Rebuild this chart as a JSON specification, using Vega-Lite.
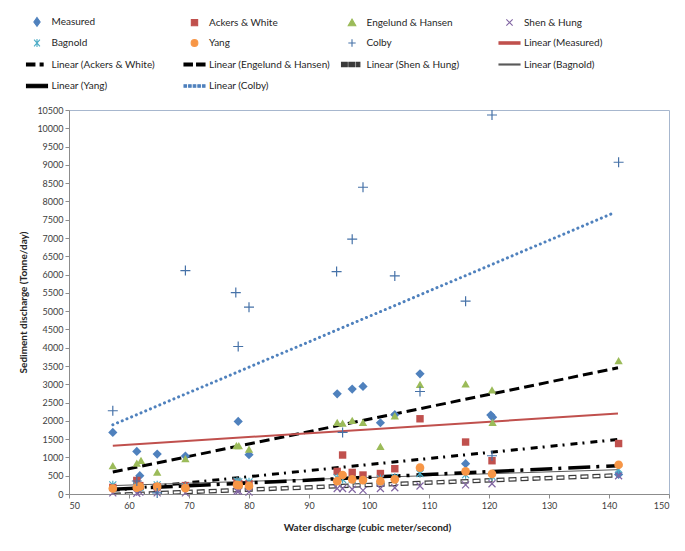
{
  "$schema": "https://vega.github.io/schema/vega-lite/v6.json",
  "width": 600,
  "height": 384,
  "autosize": {"type": "none"},
  "padding": {"left": 69, "top": 110, "right": 16, "bottom": 57},
  "background": "white",
  "config": {
    "view": {"stroke": "#A7B7CE", "strokeWidth": 1},
    "font": "Lato",
    "axis": {"labelFont": "Lato", "labelFontSize": 9, "labelColor": "#404040", "titleFont": "Lato", "titleFontSize": 10, "titleFontWeight": "bold", "titleColor": "#262626", "domainColor": "#8C8C8C", "tickColor": "#8C8C8C", "tickSize": 4, "grid": false}
  },
  "data": {"values": [
    {"series": "Measured", "q": 57.3, "s": 1683}, {"series": "Measured", "q": 61.3, "s": 1164}, {"series": "Measured", "q": 61.8, "s": 500}, {"series": "Measured", "q": 64.7, "s": 1093}, {"series": "Measured", "q": 69.4, "s": 1038}, {"series": "Measured", "q": 78.2, "s": 1984}, {"series": "Measured", "q": 80, "s": 1074}, {"series": "Measured", "q": 94.7, "s": 2740}, {"series": "Measured", "q": 97.2, "s": 2869}, {"series": "Measured", "q": 99, "s": 2940}, {"series": "Measured", "q": 101.9, "s": 1948}, {"series": "Measured", "q": 104.3, "s": 2170}, {"series": "Measured", "q": 108.5, "s": 3287}, {"series": "Measured", "q": 116.1, "s": 828}, {"series": "Measured", "q": 120.3, "s": 2160}, {"series": "Measured", "q": 120.6, "s": 2100}, {"series": "Measured", "q": 141.6, "s": 536},
    {"series": "Ackers & White", "q": 57.3, "s": 180}, {"series": "Ackers & White", "q": 61.3, "s": 370}, {"series": "Ackers & White", "q": 61.8, "s": 230}, {"series": "Ackers & White", "q": 64.7, "s": 200}, {"series": "Ackers & White", "q": 69.4, "s": 230}, {"series": "Ackers & White", "q": 78, "s": 330}, {"series": "Ackers & White", "q": 78.3, "s": 280}, {"series": "Ackers & White", "q": 80, "s": 280}, {"series": "Ackers & White", "q": 94.7, "s": 618}, {"series": "Ackers & White", "q": 95.6, "s": 1066}, {"series": "Ackers & White", "q": 97.2, "s": 590}, {"series": "Ackers & White", "q": 99, "s": 519}, {"series": "Ackers & White", "q": 101.9, "s": 560}, {"series": "Ackers & White", "q": 104.3, "s": 691}, {"series": "Ackers & White", "q": 108.5, "s": 2057}, {"series": "Ackers & White", "q": 116.1, "s": 1421}, {"series": "Ackers & White", "q": 120.5, "s": 910}, {"series": "Ackers & White", "q": 141.6, "s": 1380},
    {"series": "Engelund & Hansen", "q": 57.3, "s": 773}, {"series": "Engelund & Hansen", "q": 61.3, "s": 847}, {"series": "Engelund & Hansen", "q": 62, "s": 918}, {"series": "Engelund & Hansen", "q": 64.7, "s": 601}, {"series": "Engelund & Hansen", "q": 69.4, "s": 964}, {"series": "Engelund & Hansen", "q": 77.9, "s": 1320}, {"series": "Engelund & Hansen", "q": 78.3, "s": 1320}, {"series": "Engelund & Hansen", "q": 80, "s": 1230}, {"series": "Engelund & Hansen", "q": 94.7, "s": 1956}, {"series": "Engelund & Hansen", "q": 95.6, "s": 1940}, {"series": "Engelund & Hansen", "q": 97.2, "s": 2011}, {"series": "Engelund & Hansen", "q": 99, "s": 1956}, {"series": "Engelund & Hansen", "q": 101.9, "s": 1301}, {"series": "Engelund & Hansen", "q": 104.3, "s": 2139}, {"series": "Engelund & Hansen", "q": 108.5, "s": 2995}, {"series": "Engelund & Hansen", "q": 116.1, "s": 3014}, {"series": "Engelund & Hansen", "q": 120.5, "s": 2850}, {"series": "Engelund & Hansen", "q": 120.6, "s": 1956}, {"series": "Engelund & Hansen", "q": 141.6, "s": 3650},
    {"series": "Shen & Hung", "q": 57.3, "s": 30}, {"series": "Shen & Hung", "q": 61.3, "s": 20}, {"series": "Shen & Hung", "q": 61.8, "s": 50}, {"series": "Shen & Hung", "q": 64.7, "s": 30}, {"series": "Shen & Hung", "q": 69.4, "s": 30}, {"series": "Shen & Hung", "q": 78, "s": 80}, {"series": "Shen & Hung", "q": 78.3, "s": 80}, {"series": "Shen & Hung", "q": 80, "s": 50}, {"series": "Shen & Hung", "q": 94.7, "s": 150}, {"series": "Shen & Hung", "q": 95.6, "s": 150}, {"series": "Shen & Hung", "q": 97.2, "s": 130}, {"series": "Shen & Hung", "q": 99, "s": 100}, {"series": "Shen & Hung", "q": 101.9, "s": 150}, {"series": "Shen & Hung", "q": 104.3, "s": 170}, {"series": "Shen & Hung", "q": 108.5, "s": 220}, {"series": "Shen & Hung", "q": 116.1, "s": 250}, {"series": "Shen & Hung", "q": 120.5, "s": 280}, {"series": "Shen & Hung", "q": 141.6, "s": 500},
    {"series": "Bagnold", "q": 57.3, "s": 250}, {"series": "Bagnold", "q": 61.3, "s": 230}, {"series": "Bagnold", "q": 61.8, "s": 180}, {"series": "Bagnold", "q": 64.7, "s": 250}, {"series": "Bagnold", "q": 69.4, "s": 200}, {"series": "Bagnold", "q": 78, "s": 350}, {"series": "Bagnold", "q": 78.3, "s": 330}, {"series": "Bagnold", "q": 80, "s": 330}, {"series": "Bagnold", "q": 94.7, "s": 440}, {"series": "Bagnold", "q": 95.6, "s": 400}, {"series": "Bagnold", "q": 97.2, "s": 400}, {"series": "Bagnold", "q": 99, "s": 380}, {"series": "Bagnold", "q": 101.9, "s": 420}, {"series": "Bagnold", "q": 104.3, "s": 450}, {"series": "Bagnold", "q": 108.5, "s": 560}, {"series": "Bagnold", "q": 116.1, "s": 530}, {"series": "Bagnold", "q": 120.5, "s": 480}, {"series": "Bagnold", "q": 141.6, "s": 680},
    {"series": "Yang", "q": 57.3, "s": 150}, {"series": "Yang", "q": 61.3, "s": 170}, {"series": "Yang", "q": 61.8, "s": 200}, {"series": "Yang", "q": 64.7, "s": 200}, {"series": "Yang", "q": 69.4, "s": 160}, {"series": "Yang", "q": 78, "s": 250}, {"series": "Yang", "q": 78.3, "s": 240}, {"series": "Yang", "q": 80, "s": 220}, {"series": "Yang", "q": 94.7, "s": 350}, {"series": "Yang", "q": 95.6, "s": 520}, {"series": "Yang", "q": 97.2, "s": 400}, {"series": "Yang", "q": 99, "s": 380}, {"series": "Yang", "q": 101.9, "s": 350}, {"series": "Yang", "q": 104.3, "s": 400}, {"series": "Yang", "q": 108.5, "s": 720}, {"series": "Yang", "q": 116.1, "s": 620}, {"series": "Yang", "q": 120.5, "s": 550}, {"series": "Yang", "q": 141.6, "s": 800},
    {"series": "Colby", "q": 57.3, "s": 2276}, {"series": "Colby", "q": 61.3, "s": 355}, {"series": "Colby", "q": 64.7, "s": 30}, {"series": "Colby", "q": 69.4, "s": 6109}, {"series": "Colby", "q": 77.8, "s": 5508}, {"series": "Colby", "q": 78.2, "s": 4033}, {"series": "Colby", "q": 80, "s": 5109}, {"series": "Colby", "q": 94.6, "s": 6082}, {"series": "Colby", "q": 95.6, "s": 1683}, {"series": "Colby", "q": 97.2, "s": 6967}, {"series": "Colby", "q": 99, "s": 8388}, {"series": "Colby", "q": 104.3, "s": 5964}, {"series": "Colby", "q": 108.5, "s": 2803}, {"series": "Colby", "q": 116.1, "s": 5273}, {"series": "Colby", "q": 120.5, "s": 10363}, {"series": "Colby", "q": 120.5, "s": 1046}, {"series": "Colby", "q": 141.6, "s": 9071},
    {"series": "Linear (Measured)", "q": 57.3, "s": 1320}, {"series": "Linear (Measured)", "q": 141.5, "s": 2200},
    {"series": "Linear (Ackers & White)", "q": 57.3, "s": 100}, {"series": "Linear (Ackers & White)", "q": 141.5, "s": 1490},
    {"series": "Linear (Engelund & Hansen)", "q": 57.3, "s": 600}, {"series": "Linear (Engelund & Hansen)", "q": 141.5, "s": 3450},
    {"series": "Linear (Shen & Hung)", "q": 57.3, "s": -25}, {"series": "Linear (Shen & Hung)", "q": 141.5, "s": 510},
    {"series": "Linear (Bagnold)", "q": 57.3, "s": 230}, {"series": "Linear (Bagnold)", "q": 141.5, "s": 665},
    {"series": "Linear (Yang)", "q": 57.3, "s": 130}, {"series": "Linear (Yang)", "q": 141.5, "s": 775},
    {"series": "Linear (Colby)", "q": 57.3, "s": 1893}, {"series": "Linear (Colby)", "q": 141, "s": 7700}
  ]},
  "encoding": {
    "x": {"field": "q", "type": "quantitative", "title": "Water discharge (cubic meter/second)", "scale": {"domain": [50, 150], "nice": false, "zero": false}, "axis": {"values": [50, 60, 70, 80, 90, 100, 110, 120, 130, 140, 150], "labelPadding": 3, "titleX": 298, "titleY": 33, "titleBaseline": "middle"}},
    "y": {"field": "s", "type": "quantitative", "title": "Sediment discharge (Tonne/day)", "scale": {"domain": [0, 10500], "nice": false}, "axis": {"values": [0, 500, 1000, 1500, 2000, 2500, 3000, 3500, 4000, 4500, 5000, 5500, 6000, 6500, 7000, 7500, 8000, 8500, 9000, 9500, 10000, 10500], "format": "d", "labelPadding": 2, "titleX": -46, "titleY": 192, "titleAlign": "center", "titleBaseline": "middle", "titleAngle": -90}},
    "color": {
      "field": "series", "type": "nominal",
      "scale": {
        "domain": ["Measured", "Bagnold", "Linear (Ackers & White)", "Linear (Bagnold)", "Ackers & White", "Yang", "Linear (Engelund & Hansen)", "Linear (Yang)", "Engelund & Hansen", "Colby", "Linear (Shen & Hung)", "Linear (Colby)", "Shen & Hung", "Linear (Measured)"],
        "range": ["#4F81BD", "#4BACC6", "#000000", "#595959", "#C0504D", "#F79646", "#000000", "#000000", "#9BBB59", "#4672A8", "#3A3A3A", "#4F81BD", "#8064A2", "#C0504D"]
      },
      "legend": {
        "orient": "none", "legendX": -43.5, "legendY": -100, "columns": 4, "title": null, "gridAlign": "all",
        "columnPadding": 8.5, "rowPadding": 2.5, "symbolSize": 441, "symbolStrokeWidth": 1.1, "padding": 0,
        "labelFont": "Lato", "labelFontSize": 10, "labelColor": "#262626", "labelOffset": 3, "labelLimit": 300,
        "encode": {"symbols": {"update": {
          "shape": {"signal": "['M0,-0.42L0.3,0L0,0.42L-0.3,0Z','M-0.3,-0.3H0.3V0.3H-0.3Z','M0,-0.34L0.36,0.3H-0.36Z','M-0.3,-0.3L0.3,0.3M-0.3,0.3L0.3,-0.3','M-0.28,-0.32L0.28,0.32M-0.28,0.32L0.28,-0.32M0,-0.38V0.38','M0.32,0A0.32,0.32,0,1,1,-0.32,0A0.32,0.32,0,1,1,0.32,0Z','M-0.35,0H0.35M0,-0.35V0.35','M-1,-0.11H1V0.11H-1Z','M-1,-0.14H-0.2V0.14H-1Z M0.3,-0.14H0.58V0.14H0.3Z','M-1,-0.14H-0.2V0.14H-1Z M0.2,-0.14H1V0.14H0.2Z','M-1,-0.2H-0.45V0.2H-1Z M-0.3,-0.2H0.25V0.2H-0.3Z M0.4,-0.2H0.75V0.2H0.4Z','M-1,-0.05H1V0.05H-1Z','M-1,-0.17H1V0.17H-1Z','M-1,-0.12H-0.76V0.12H-1Z M-0.56,-0.12H-0.32V0.12H-0.56Z M-0.12,-0.12H0.12V0.12H-0.12Z M0.32,-0.12H0.56V0.12H0.32Z M0.76,-0.12H1V0.12H0.76Z'][indexof(['Measured','Ackers & White','Engelund & Hansen','Shen & Hung','Bagnold','Yang','Colby','Linear (Measured)','Linear (Ackers & White)','Linear (Engelund & Hansen)','Linear (Shen & Hung)','Linear (Bagnold)','Linear (Yang)','Linear (Colby)'], datum.value)]"},
          "fill": {"signal": "['#4F81BD','#C0504D','#9BBB59','transparent','transparent','#F79646','transparent','#C0504D','#000000','#000000','#ffffff','#595959','#000000','#4F81BD'][indexof(['Measured','Ackers & White','Engelund & Hansen','Shen & Hung','Bagnold','Yang','Colby','Linear (Measured)','Linear (Ackers & White)','Linear (Engelund & Hansen)','Linear (Shen & Hung)','Linear (Bagnold)','Linear (Yang)','Linear (Colby)'], datum.value)]"},
          "stroke": {"signal": "['transparent','transparent','transparent','#8064A2','#4BACC6','transparent','#4672A8','transparent','transparent','transparent','#000000','transparent','transparent','transparent'][indexof(['Measured','Ackers & White','Engelund & Hansen','Shen & Hung','Bagnold','Yang','Colby','Linear (Measured)','Linear (Ackers & White)','Linear (Engelund & Hansen)','Linear (Shen & Hung)','Linear (Bagnold)','Linear (Yang)','Linear (Colby)'], datum.value)]"},
          "opacity": {"value": 1}
        }}}
      }
    }
  },
  "layer": [
    {"transform": [{"filter": "datum.series === 'Linear (Colby)'"}], "mark": {"type": "line", "strokeWidth": 3, "strokeDash": [0.1, 5], "strokeCap": "round", "clip": true}},
    {"transform": [{"filter": "datum.series === 'Linear (Engelund & Hansen)'"}], "mark": {"type": "line", "strokeWidth": 3, "strokeDash": [10, 5], "clip": true}},
    {"transform": [{"filter": "datum.series === 'Linear (Measured)'"}], "mark": {"type": "line", "strokeWidth": 2, "clip": true}},
    {"transform": [{"filter": "datum.series === 'Linear (Ackers & White)'"}], "mark": {"type": "line", "strokeWidth": 3, "strokeDash": [7, 5, 2, 6], "clip": true}},
    {"transform": [{"filter": "datum.series === 'Linear (Shen & Hung)'"}], "mark": {"type": "line", "strokeWidth": 4.5, "strokeDash": [8, 4], "clip": true}},
    {"transform": [{"filter": "datum.series === 'Linear (Shen & Hung)'"}], "mark": {"type": "line", "strokeWidth": 2, "strokeDash": [6, 6], "strokeDashOffset": -1, "clip": true}, "encoding": {"color": {"value": "#ffffff"}}},
    {"transform": [{"filter": "datum.series === 'Linear (Bagnold)'"}], "mark": {"type": "line", "strokeWidth": 1, "clip": true}},
    {"transform": [{"filter": "datum.series === 'Linear (Yang)'"}], "mark": {"type": "line", "strokeWidth": 3.5, "strokeDash": [22, 6, 3, 7], "clip": true}},
    {"transform": [{"filter": "datum.series === 'Measured'"}], "mark": {"type": "point", "shape": "diamond", "filled": true, "size": 85, "opacity": 1}},
    {"transform": [{"filter": "datum.series === 'Ackers & White'"}], "mark": {"type": "point", "shape": "square", "filled": true, "size": 55, "opacity": 1}},
    {"transform": [{"filter": "datum.series === 'Engelund & Hansen'"}], "mark": {"type": "point", "shape": "triangle-up", "filled": true, "size": 70, "opacity": 1}},
    {"transform": [{"filter": "datum.series === 'Shen & Hung'"}], "mark": {"type": "point", "shape": "M-1,-1L1,1M-1,1L1,-1", "filled": false, "size": 49, "strokeWidth": 1.2, "opacity": 1}},
    {"transform": [{"filter": "datum.series === 'Bagnold'"}], "mark": {"type": "point", "shape": "M-1,-1L1,1M-1,1L1,-1M0,-1.2V1.2", "filled": false, "size": 49, "strokeWidth": 1.2, "opacity": 1}},
    {"transform": [{"filter": "datum.series === 'Yang'"}], "mark": {"type": "point", "shape": "circle", "filled": true, "size": 75, "opacity": 1}},
    {"transform": [{"filter": "datum.series === 'Colby'"}], "mark": {"type": "point", "shape": "M-1,0H1M0,-1V1", "filled": false, "size": 100, "strokeWidth": 1.2, "opacity": 1}}
  ]
}
